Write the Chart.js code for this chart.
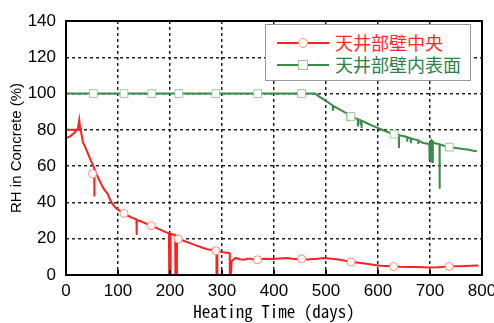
<!DOCTYPE html>
<html><head><meta charset="utf-8">
<script src="https://cdn.jsdelivr.net/npm/chart.js@4.4.1/dist/chart.umd.min.js"></script>
<style>
html,body{margin:0;padding:0;background:#fff;}
#wrap{position:relative;width:494px;height:323px;}
#legend{position:absolute;left:265px;top:24px;width:204px;height:55px;border:1px solid #999;background:#fff;z-index:2;font-family:'Noto Sans CJK JP',sans-serif;font-size:18px;}
.row{position:absolute;left:0;height:22px;width:100%;}
.ln{position:absolute;left:11px;width:52px;top:10px;height:2px;}
.mk{position:absolute;background:#fff;}
.tx{position:absolute;left:69px;top:-2px;line-height:24px;white-space:nowrap;}
</style></head>
<body><div id="wrap"><canvas id="c" width="494" height="323"></canvas>
<div id="legend">
 <div class="row" style="top:7px"><div class="ln" style="background:#ff2020"></div><div class="mk" style="left:32px;top:6px;border:1px solid #ff9080;border-radius:50%;box-sizing:border-box;width:10px;height:10px"></div><div class="tx" style="color:#ff2a2a">天井部壁中央</div></div>
 <div class="row" style="top:29px"><div class="ln" style="background:#3a8a4c"></div><div class="mk" style="left:32px;top:6px;width:10px;height:10px;border:1px solid #9cc89c;box-sizing:border-box"></div><div class="tx" style="color:#2f8048">天井部壁内表面</div></div>
</div></div>
<script>
const xTicks = [0,100,200,300,400,500,600,700,800];
const yTicks = [0,20,40,60,80,100,120,140];
const seriesNames = ['天井部壁中央','天井部壁内表面'];

const redDays = [0,20,20,0,1.3,7.7,14,20.5,23,25.5,27,28.8,32.7,36.5,43,48,52.6,54.3,54.5,54.8,58,62,67,71.7,75,78,80,84,88,94,100,106,111.5,120,128,135.5,135.8,136.2,145,155,164,175,185,193,198,198.4,200.6,201,206,210,210.3,213.2,213.5,216,225,238.5,250,264,275,287.5,289.3,289.5,290.8,291,299.5,306,312.5,314.8,315,317,318.5,322,326,334,342,350,355,362,368,377,386,398.7,410,424.4,435,445,453,465,475,482,494,505,515,527,537,548,563,578,590,604,616,630,642,655,670,685,700,715,728,737,750,765,780,793];
const redRH = [80,80,null,75.5,75.5,76.4,77.9,79.7,81,85.4,81,79,73,70.9,66.3,63,60,58.8,43.3,58.5,56,53.5,50.5,48,46.5,45.5,44.8,42,39.7,37.5,36,35,34,32.5,31.5,30.6,22,30.4,29.5,28.2,27.2,25.8,24.5,23.5,23,0,0,22.7,22.3,22,0,0,20.3,19.8,19,17.6,16.3,14.9,14,13.4,13.3,0,0,13.1,12.7,12.4,12.1,11.9,0,0,7.5,8.5,9.4,8.7,8.4,9,9,8.6,8.4,8.8,9,8.8,9.1,9.4,9.0,8.7,8.9,8.6,8.8,8.8,9.4,9.1,8.8,8.4,7.8,7.2,6.7,6.2,5.6,5.1,4.9,4.7,4.5,4.4,4.4,4.3,4.2,4.3,4.6,4.7,4.8,4.9,5.1,5.3];
const redMarkDays = [51,111.5,164,216,288,368,453,548,630,737];
const redMarkRH = [55.8,34,27.2,19.8,13.4,8.4,8.9,7.2,4.7,4.7];

const greenDays = [0,100,200,300,400,479,490,501.5,510,513,513.3,513.6,520,533,538,541.5,541.7,542,547,556,561,561.3,561.6,566,566.3,566.6,568,568.3,568.6,572,580,590,597,610,620,629,636,640,640.3,640.6,650,656,656.3,656.6,661,663,663.3,663.6,672,677,677.3,677.6,687,693,698.7,699,699.3,701,701.3,701.6,703,705,705.3,705.6,710,718.3,718.5,718.8,727,737,750,764,775,783,790];
const greenRH = [100,100,100,100,100,100,97.8,95.7,94,93.4,90.5,93.2,92.2,90.2,89.4,88.9,84.7,88.8,87.4,86.5,85.9,81.9,85.8,85.4,82.5,85.3,85,81,85,84.7,83.5,82.2,81.4,79.8,78.7,77.7,77.4,77.2,70,77,76.5,76,73.5,76,75.5,75.3,72.7,75.2,74.6,74.2,72.2,74.1,72.8,72.5,72.2,63.6,72.3,73.4,62,73.8,74.2,73.8,61.7,73,72.6,72.0,47.6,72,71.2,70.5,70,69.4,69,68.5,68.2];
const greenMarkDays = [52.6,111.5,165,217,288,368.6,453,548,631,737];
const greenMarkRH = [100,100,100,100,100,100,100,87.4,77.7,70.5];

const pts = (xs, ys) => xs.map((x,i)=>({x:x, y:ys[i]}));

const framePlugin = {
  id:'frame',
  afterDatasetsDraw(chart){
    const {ctx, chartArea:a, scales} = chart;
    ctx.save();
    ctx.strokeStyle='#000'; ctx.lineWidth=2;
    ctx.beginPath();
    xTicks.forEach(t=>{ if(t>0&&t<800){const px=scales.x.getPixelForValue(t); ctx.moveTo(px,a.bottom); ctx.lineTo(px,a.bottom-5);} });
    ctx.stroke();
    ctx.strokeRect(a.left,a.top,a.right-a.left,a.bottom-a.top);
    ctx.restore();
  }
};

new Chart(document.getElementById('c'), {
  type:'scatter',
  data:{datasets:[
    {label:seriesNames[0], data:pts(redDays,redRH), showLine:true, borderColor:'#ff2020', borderWidth:2, pointRadius:0, spanGaps:false, order:2},
    {label:seriesNames[1], data:pts(greenDays,greenRH), showLine:true, borderColor:'#3a8a4c', borderWidth:2, pointRadius:0, order:3},
    {label:'m1', data:pts(redMarkDays,redMarkRH), showLine:false, pointStyle:'circle', pointRadius:4, pointBorderWidth:1, pointBorderColor:'#ff9080', pointBackgroundColor:'#fff', order:0},
    {label:'m2', data:pts(greenMarkDays,greenMarkRH), showLine:false, pointStyle:'rect', pointRadius:5.5, pointBorderWidth:1, pointBorderColor:'#9cc89c', pointBackgroundColor:'#fff', order:1}
  ]},
  options:{
    responsive:false, animation:false, devicePixelRatio:1,
    layout:{padding:{left:0,right:12,top:21,bottom:0}},
    plugins:{legend:{display:false}, tooltip:{enabled:false}},
    scales:{
      x:{type:'linear', min:0, max:800,
        afterBuildTicks(s){ s.ticks = xTicks.map(v=>({value:v})); },
        afterFit(s){ s.height = 48; s.paddingLeft = 0; s.paddingRight = 0; },
        grid:{color:'#222', lineWidth:1.5, drawTicks:false},
        border:{display:false, dash:[3,3]},
        ticks:{color:'#000', padding:6, font:{family:'Liberation Sans', size:17}, maxRotation:0},
        title:{display:true, text:'Heating Time (days)', color:'#000', padding:{top:0,bottom:1}, font:{family:"'Noto Sans Mono CJK JP','Liberation Mono',monospace", size:17}}
      },
      y:{type:'linear', min:0, max:140,
        afterBuildTicks(s){ s.ticks = yTicks.map(v=>({value:v})); },
        afterFit(s){ s.width = 66; s.paddingTop = 0; s.paddingBottom = 0; },
        grid:{color:'#222', lineWidth:1.5, drawTicks:false},
        border:{display:false, dash:[3,3]},
        ticks:{color:'#000', padding:10, font:{family:'Liberation Sans', size:17}},
        title:{display:true, text:'RH in Concrete (%)', color:'#000', padding:{top:8,bottom:0}, font:{family:'Liberation Sans', size:15}}
      }
    }
  },
  plugins:[framePlugin]
});
</script></body></html>
